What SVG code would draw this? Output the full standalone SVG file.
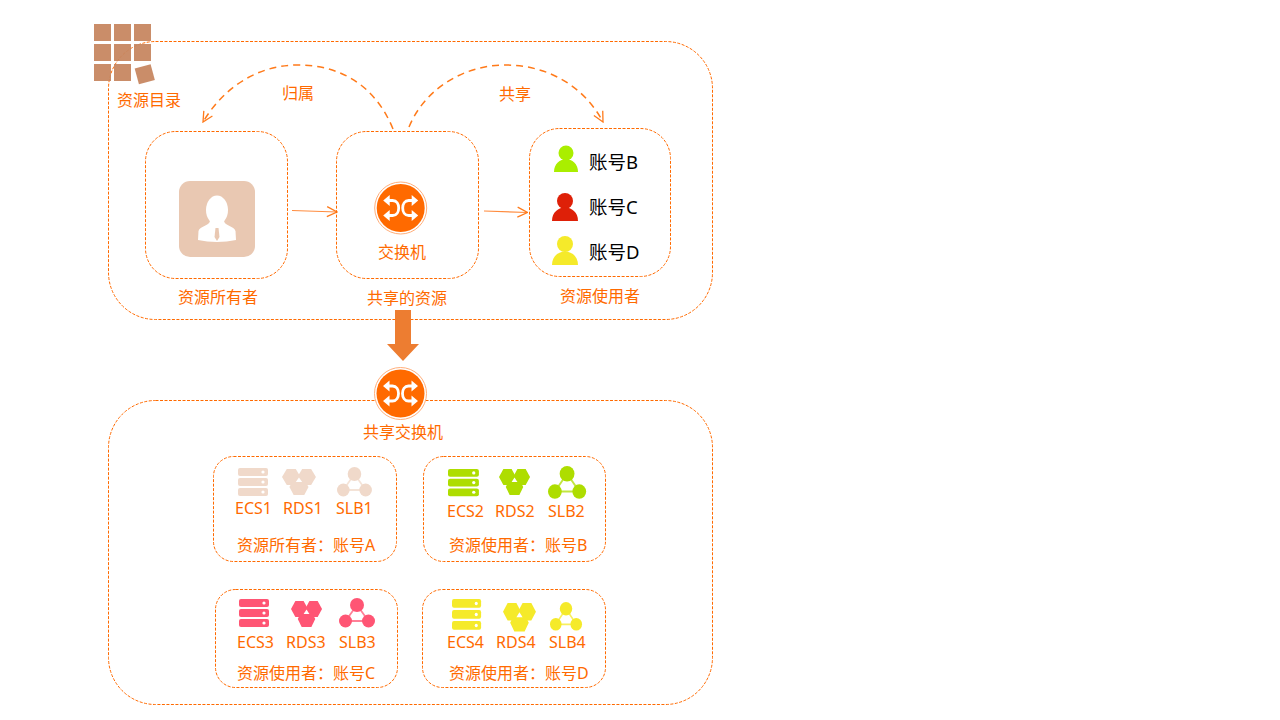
<svg xmlns="http://www.w3.org/2000/svg" xmlns:xlink="http://www.w3.org/1999/xlink" width="1280" height="720" viewBox="0 0 1280 720">
<style>
text{font-family:"Noto Sans","Noto Sans CJK SC",sans-serif;font-size:16px;fill:#ff6a00}
.acct{font-size:18.5px;fill:#000}
.box{fill:none;stroke:#ff6a00;stroke-width:1;stroke-dasharray:3 1.5}
.arc{fill:none;stroke:#ff7a1a;stroke-width:1.5;stroke-dasharray:7 5}
.link{fill:none;stroke:#ff8c3f;stroke-width:1.2}
.grid rect{fill:#c78660;opacity:.94}
.a{fill:#f0d9ca;stroke:#f0d9ca}.b{fill:#aedd00;stroke:#aedd00}.c{fill:#ff5574;stroke:#ff5574}.d{fill:#f5ea2a;stroke:#f5ea2a}
</style>
<defs>
<marker id="open" viewBox="-11 -6 12 12" refX="0" refY="0" markerWidth="12" markerHeight="12" markerUnits="userSpaceOnUse" orient="auto"><path d="M-10,-5 L0,0 L-10,5" fill="none" stroke="#ff7a1a" stroke-width="1.3"/></marker>
<g id="ecs" stroke="none">
<rect x="0" y="0" width="30" height="8" rx="2"/><rect x="0" y="10" width="30" height="8" rx="2"/><rect x="0" y="20" width="30" height="8" rx="2"/>
<circle cx="25" cy="4" r="1.6" fill="#fff"/><circle cx="25" cy="14" r="1.6" fill="#fff"/><circle cx="25" cy="24" r="1.6" fill="#fff"/>
</g>
<g id="rds" stroke="none">
<path d="M0,8 L4.500,0 H13 L17.500,8 L13,16 H4.500Z"/><path d="M14.500,8 L19,0 H27.500 L32,8 L27.500,16 H19Z"/><path d="M7,18 L11,10 H21 L25,18 L21,26 H11Z"/>
<path d="M16,8.500 L19,13 H13Z" fill="#fff"/>
</g>
<g id="slb">
<path d="M18,7 L6.500,23 H29.500Z" fill="none" stroke-width="1.800" opacity=".75"/>
<circle cx="18" cy="7" r="7" stroke="none"/><circle cx="6.500" cy="23" r="6.500" stroke="none"/><circle cx="29.500" cy="23" r="6.500" stroke="none"/>
</g>
<g id="switch">
<circle r="26" fill="#fff" stroke="#ffae7a" stroke-width="1"/>
<circle r="24" fill="#ff6a00"/>
<path d="M-14,-7.500 H-8 C0,-7.500 0,7.500 -8,7.500 H-14 M14,-7.500 H8 C0,-7.500 0,7.500 8,7.500 H14" fill="none" stroke="#fff" stroke-width="2.800"/>
<path d="M-17.500,-7.500 L-11,-13 V-2Z M-17.500,7.500 L-11,2 V13Z M17.500,-7.500 L11,-13 V-2Z M17.500,7.500 L11,2 V13Z" fill="#fff"/>
</g>
</defs>

<g id="catalog-frame"><rect class="box" x="108.500" y="41.500" width="604" height="278" rx="47"/></g>
<g id="shared-frame"><rect class="box" x="108.500" y="400.500" width="604" height="304" rx="47"/></g>

<g id="catalog">
<g class="grid">
<rect x="94" y="24" width="17" height="17"/><rect x="114" y="24" width="17" height="17"/><rect x="134" y="24" width="17" height="17"/>
<rect x="94" y="44" width="17" height="17"/><rect x="114" y="44" width="17" height="17"/><rect x="134" y="44" width="17" height="17"/>
<rect x="94" y="64" width="17" height="17"/><rect x="114" y="64" width="17" height="17"/>
<rect x="136.500" y="66" width="16.500" height="16.500" transform="rotate(-15 144.700 74.200)"/>
</g>
<text x="117" y="106">资源目录</text>
</g>

<g id="connectors">
<path class="arc" d="M393,129 C375,85 340,65 298,65 C255,65 222,90 203,122" marker-end="url(#open)"/>
<path class="arc" d="M409,127 C425,88 465,65 505,65 C550,65 585,88 603,122" marker-end="url(#open)"/>
<path class="link" d="M292,210.500 L337,212" marker-end="url(#open)"/>
<path class="link" d="M484,211 L527.500,212.500" marker-end="url(#open)"/>
<path d="M395,310 H411 V344 H419 L403,361 L387,344 H395Z" fill="#ed7d31"/>
<text x="282" y="99">归属</text>
<text x="499" y="100">共享</text>
</g>

<g id="owner">
<rect class="box" x="145.500" y="131.500" width="142" height="147" rx="30"/>
<rect x="179" y="181" width="76" height="76" rx="11" fill="#e9c8b2"/>
<ellipse cx="217" cy="210" rx="11" ry="14.500" fill="#fff"/>
<path d="M210,221 C209,226 200,226 198.500,231 L198,240 C210,242.500 224,242.500 236,240 L235.500,231 C234,226 225,226 224,221Z" fill="#fff"/>
<path d="M215.500,228 H218.500 L219.500,237 L217,241 L214.500,237Z" fill="#e9c8b2"/>
<text x="178" y="303">资源所有者</text>
</g>

<g id="shared-resource">
<rect class="box" x="336.500" y="131.500" width="142" height="147" rx="30"/>
<use xlink:href="#switch" href="#switch" x="400.700" y="208"/>
<text x="378" y="258">交换机</text>
<text x="367" y="304">共享的资源</text>
</g>

<g id="users">
<rect class="box" x="529.500" y="128.500" width="141" height="148" rx="30"/>
<circle cx="566" cy="153" r="7.500" fill="#aaee00"/><path d="M554,172 C554,155 578,155 578,172Z" fill="#aaee00"/>
<circle cx="565" cy="201" r="8" fill="#de2008"/><path d="M552,221 C552,203 578,203 578,221Z" fill="#de2008"/>
<circle cx="565" cy="244" r="8" fill="#f5ea2a"/><path d="M552,265 C552,247 578,247 578,265Z" fill="#f5ea2a"/>
<text class="acct" x="589" y="169">账号B</text>
<text class="acct" x="589" y="214">账号C</text>
<text class="acct" x="589" y="259">账号D</text>
<text x="560" y="302">资源使用者</text>
</g>

<g id="shared-switch">
<use xlink:href="#switch" href="#switch" x="400.500" y="393.500"/>
<text x="363" y="438">共享交换机</text>
</g>

<g id="account-a">
<rect class="box" x="213.500" y="456.500" width="183" height="105" rx="20"/>
<use class="a" xlink:href="#ecs" href="#ecs" transform="translate(238,468)"/>
<use class="a" xlink:href="#rds" href="#rds" transform="translate(282,469) scale(1.060,1)"/>
<use class="a" xlink:href="#slb" href="#slb" transform="translate(337,467) scale(.970,1)"/>
<text x="235" y="514">ECS1</text><text x="283" y="514">RDS1</text><text x="336" y="514">SLB1</text>
<text x="237" y="551">资源所有者：账号A</text>
</g>

<g id="account-b">
<rect class="box" x="423.500" y="456.500" width="182" height="105" rx="20"/>
<use class="b" xlink:href="#ecs" href="#ecs" transform="translate(448,469) scale(1.030,.970)"/>
<use class="b" xlink:href="#rds" href="#rds" transform="translate(499,469) scale(.970,1)"/>
<use class="b" xlink:href="#slb" href="#slb" transform="translate(548,466) scale(1.060,1.110)"/>
<text x="447" y="517">ECS2</text><text x="495" y="517">RDS2</text><text x="548" y="517">SLB2</text>
<text x="449" y="551">资源使用者：账号B</text>
</g>

<g id="account-c">
<rect class="box" x="215.500" y="589.500" width="182" height="98" rx="20"/>
<use class="c" xlink:href="#ecs" href="#ecs" transform="translate(239,599)"/>
<use class="c" xlink:href="#rds" href="#rds" transform="translate(291,601) scale(.970,1)"/>
<use class="c" xlink:href="#slb" href="#slb" transform="translate(339,598)"/>
<text x="237" y="648">ECS3</text><text x="286" y="648">RDS3</text><text x="339" y="648">SLB3</text>
<text x="237" y="679">资源使用者：账号C</text>
</g>

<g id="account-d">
<rect class="box" x="422.500" y="589.500" width="183" height="98" rx="20"/>
<use class="d" xlink:href="#ecs" href="#ecs" transform="translate(452,599) scale(.970,1.100)"/>
<use class="d" xlink:href="#rds" href="#rds" transform="translate(503,603) scale(1.030,1.100)"/>
<use class="d" xlink:href="#slb" href="#slb" transform="translate(550,602) scale(.890,.970)"/>
<text x="447" y="648">ECS4</text><text x="496" y="648">RDS4</text><text x="549" y="648">SLB4</text>
<text x="449" y="679">资源使用者：账号D</text>
</g>
</svg>
